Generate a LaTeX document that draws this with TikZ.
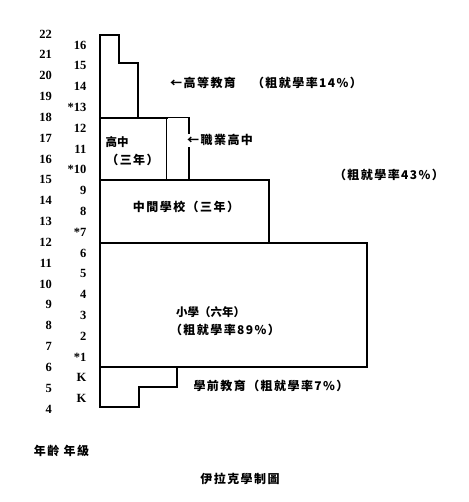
\documentclass[tikz,border=0pt]{standalone}
\usepackage{fontspec}
\setmainfont{Liberation Serif}
\newfontfamily\cjk{Noto Sans CJK TC}
\newfontfamily\cjkwide[LetterSpace=12]{Noto Sans CJK TC}
\usetikzlibrary{positioning}

\begin{document}
\begin{tikzpicture}[
  x=1pt, y=-1pt,
  outline/.style={line width=2pt, line join=miter, line cap=rect},
  thinline/.style={line width=1.2pt, line cap=rect},
  age/.style={font=\bfseries\fontsize{12.5}{14}\selectfont, anchor=east, inner sep=0pt},
  grade/.style={age},
  lbl/.style={font=\cjkwide\bfseries\fontsize{12}{14}\selectfont, inner sep=0pt},
  tight/.style={font=\cjk\bfseries\fontsize{11.5}{14}\selectfont, inner sep=0pt}
]
\useasboundingbox (0,0) rectangle (468,502);
\fill[white] (0,0) rectangle (468,502);

% ================ 左側：年齡 / 年級 ================
\foreach \a in {22,...,4}
  \node[age] (age\a) at (52,{34+(22-\a)*20.83}) {\a};
\foreach \g [count=\k from 0] in {16,15,14,*13,12,11,*10,9,8,*7,6,5,4,3,2,*1,K,K}
  \node[grade] (grd\k) at (86.5,{45+\k*20.8}) {\g};

% ================ 學制方塊 ================
% 高等教育（階梯）
\draw[outline] (100,406.7) -- (100,35) -- (119,35) -- (119,63.3)
  -- (138.3,63.3) -- (138.3,117.7);
% 高中 + 職業高中
\draw[outline] (100,117.7) -- (166.7,117.7);
\draw[thinline] (166.7,117.7) -- (189,117.7) -- (189,133.3);
\draw[thinline] (189,148) -- (189,180);
\draw[thinline] (166.7,117.7) -- (166.7,180);
% 中間學校
\draw[outline] (100,180) -- (269.3,180) -- (269.3,242.7);
% 小學
\draw[outline] (100,242.7) rectangle (366.7,366.7);
% 學前教育（階梯）
\draw[outline] (177.3,366.7) -- (177.3,386.7) -- (139.3,386.7)
  -- (139.3,406.7) -- (100,406.7);

% ================ 文字 ================
\node[lbl, anchor=west] (heName) at (170,83.3) {←高等教育};
\node[lbl] (heRate) at (307,83) {（粗就學率14\%）};
\node[lbl, anchor=west] (vocName) at (187,140) {←職業高中};
\node[lbl] (msRate) at (389,175) {（粗就學率43\%）};

\node[tight] (hsName) at (117,141.7) {高中};
\node[lbl] (hsYears) at (132.5,160) {（三年）};
\node[lbl] (msName) at (186,206.7) {中間學校（三年）};

\node[tight, anchor=west] (psName) at (176,311.7) {小學（六年）};
\node[lbl] (psRate) at (225,330) {（粗就學率89\%）};
\node[lbl] (preName) at (271,386) {學前教育（粗就學率7\%）};

% ================ 底部標題 ================
\node[lbl] (axisTitle) at (61.5,451) {年齡 年級};
\node[lbl] (chartTitle) at (240,479.3) {伊拉克學制圖};
\end{tikzpicture}
\end{document}
